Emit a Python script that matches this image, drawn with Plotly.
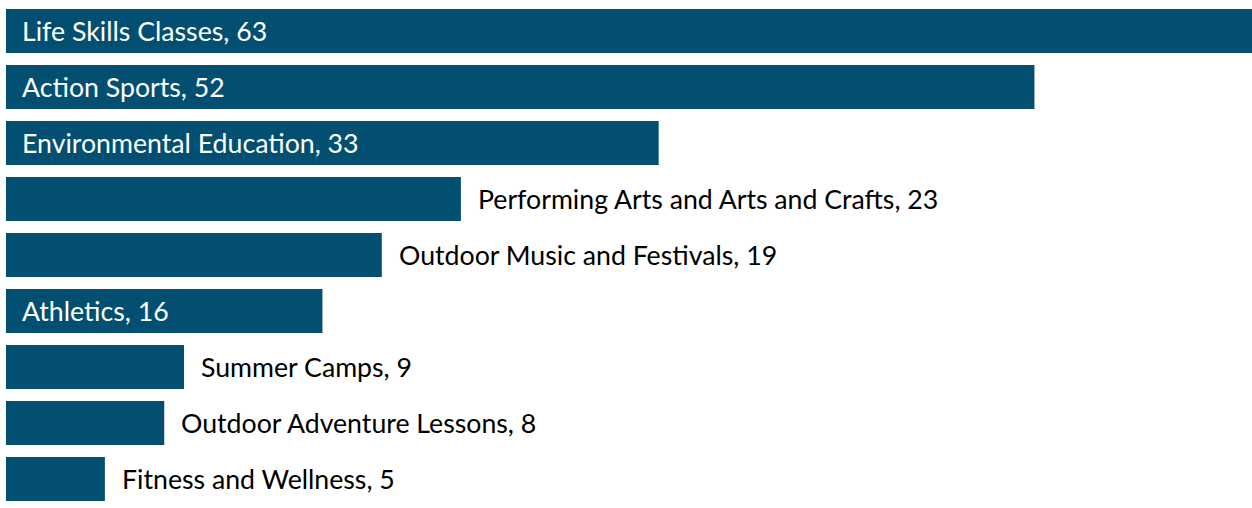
import plotly.graph_objects as go

categories = ["Life Skills Classes", "Action Sports", "Environmental Education",
              "Performing Arts and Arts and Crafts", "Outdoor Music and Festivals",
              "Athletics", "Summer Camps", "Outdoor Adventure Lessons", "Fitness and Wellness"]
values = [63, 52, 33, 23, 19, 16, 9, 8, 5]
label_inside = [True, True, True, False, False, True, False, False, False]

BAR = "#024F72"
FONT = "Lato"
FS = 26.7

fig = go.Figure(go.Bar(
    x=values, y=categories, orientation="h",
    marker=dict(color=BAR, line=dict(width=0)),
    hoverinfo="skip",
))

annotations = []
for c, v, ins in zip(categories, values, label_inside):
    annotations.append(dict(
        x=0 if ins else v, y=c, xref="x", yref="y",
        text=f"{c}, {v}", showarrow=False,
        xanchor="left", yanchor="middle",
        xshift=14 if ins else 15,
        font=dict(family=FONT, size=FS, color="white" if ins else "black"),
    ))

fig.update_layout(
    width=1252, height=508,
    margin=dict(l=6, r=0, t=3, b=1),
    paper_bgcolor="white", plot_bgcolor="white",
    bargap=0.214,
    showlegend=False,
    annotations=annotations,
    xaxis=dict(range=[0, 63], visible=False, fixedrange=True),
    yaxis=dict(autorange="reversed", visible=False, fixedrange=True),
)

fig.write_html("out.html", config={"displayModeBar": False},
               post_script="document.body.style.margin='0';document.body.style.overflow='hidden';")
